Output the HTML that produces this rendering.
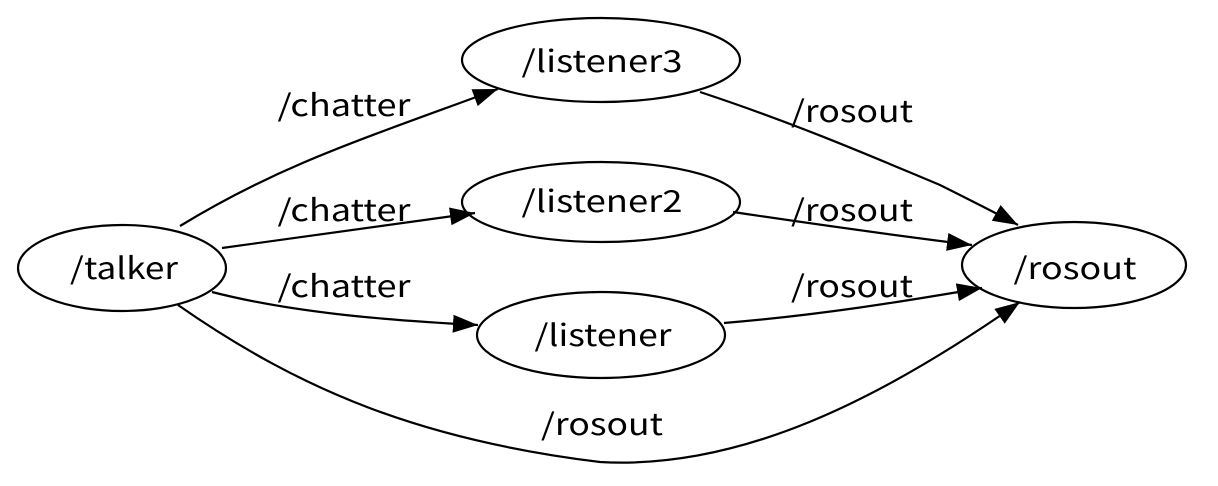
<!DOCTYPE html>
<html><head><meta charset="utf-8"><style>
html,body{margin:0;padding:0;background:#fff;}
svg{display:block;}
text{font-family:"Noto Sans CJK JP","Liberation Sans",sans-serif;font-size:30px;fill:#000;text-anchor:middle;}
</style></head><body>
<svg width="1218" height="486" viewBox="0 0 1218 486">
<defs>
<marker id="a" markerUnits="userSpaceOnUse" markerWidth="26" markerHeight="20" refX="25" refY="9" orient="auto">
<path d="M0,0 L25,9 L0,18 Z" fill="#000"/>
</marker>
</defs>
<g fill="none" stroke="#000" stroke-width="2.2">
<ellipse cx="122" cy="268" rx="104" ry="43"/>
<ellipse cx="601" cy="60" rx="139" ry="42"/>
<ellipse cx="601" cy="202" rx="139" ry="40"/>
<ellipse cx="601" cy="335" rx="124" ry="43"/>
<ellipse cx="1074" cy="265" rx="112" ry="43"/>
<path d="M180,226 C280,165 360,140 498,89" marker-end="url(#a)"/>
<path d="M222,248 C300,238 380,226 475,213" marker-end="url(#a)"/>
<path d="M212,292 C290,312 380,320 478,325" marker-end="url(#a)"/>
<path d="M178,305 C300,390 420,440 600,462 C740,470 880,400 1020,302" marker-end="url(#a)"/>
<path d="M700,92 C800,125 880,160 940,185 C970,200 1000,215 1018,225" marker-end="url(#a)"/>
<path d="M733,212 C820,225 900,236 972,245" marker-end="url(#a)"/>
<path d="M724,323 C820,315 900,302 982,288" marker-end="url(#a)"/>
</g>
<g>
<text x="124" y="279" textLength="108" lengthAdjust="spacingAndGlyphs">/talker</text>
<text x="602" y="72" textLength="161" lengthAdjust="spacingAndGlyphs">/listener3</text>
<text x="602" y="212" textLength="161" lengthAdjust="spacingAndGlyphs">/listener2</text>
<text x="603" y="346" textLength="137" lengthAdjust="spacingAndGlyphs">/listener</text>
<text x="1075" y="279" textLength="123" lengthAdjust="spacingAndGlyphs">/rosout</text>
<text x="344" y="116" textLength="133" lengthAdjust="spacingAndGlyphs">/chatter</text>
<text x="344" y="221" textLength="133" lengthAdjust="spacingAndGlyphs">/chatter</text>
<text x="344" y="297" textLength="133" lengthAdjust="spacingAndGlyphs">/chatter</text>
<text x="852" y="122" textLength="122" lengthAdjust="spacingAndGlyphs">/rosout</text>
<text x="852" y="221" textLength="122" lengthAdjust="spacingAndGlyphs">/rosout</text>
<text x="852" y="297" textLength="122" lengthAdjust="spacingAndGlyphs">/rosout</text>
<text x="602" y="435" textLength="122" lengthAdjust="spacingAndGlyphs">/rosout</text>
</g>
</svg>
</body></html>
